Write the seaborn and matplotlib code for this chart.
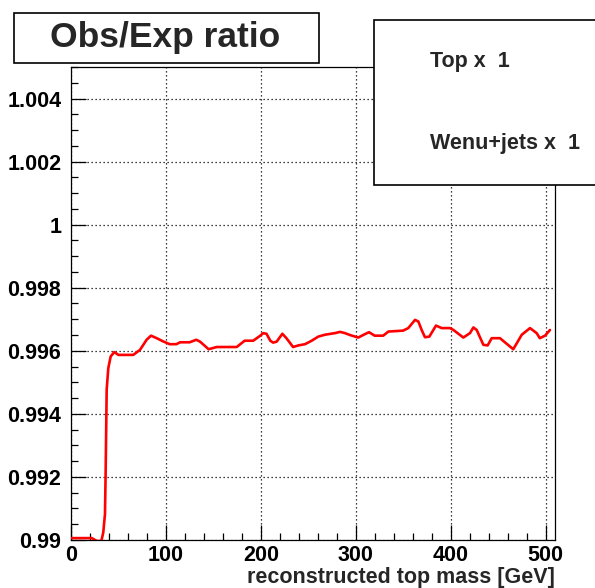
import numpy as np
import pandas as pd
import matplotlib
matplotlib.use("Agg")
import matplotlib.pyplot as plt
from matplotlib.patches import Rectangle
from matplotlib.ticker import MultipleLocator, FixedLocator, FixedFormatter
import seaborn as sns

# ---- data ----
mass = [1, 22, 27, 32, 34, 35.8, 36.5, 37.6, 39.3, 41.8, 45.6, 50, 65.6, 72.7,
        79.7, 84.3, 90.3, 97, 104, 111, 115, 125, 132, 136, 145, 153.5, 174.6,
        183, 192, 199, 202.6, 206, 210, 213, 216.7, 222.7, 227, 234, 239.5,
        246.6, 253.6, 260.6, 267.6, 278, 283.5, 288.7, 294, 302.7, 309.8, 314,
        320, 329, 334.4, 350, 355.4, 362.5, 366, 369.5, 373, 377.6, 384.6,
        390.6, 399.4, 403, 413.4, 420.4, 424, 427.5, 434.5, 439, 443.3, 452,
        466, 475, 483.7, 490.7, 494, 499.5, 504.7]
ratio = [0.99006, 0.99006, 0.98997, 0.98997, 0.99024, 0.99082, 0.99214, 0.99477,
         0.99545, 0.99582, 0.99596, 0.99587, 0.99587, 0.99603, 0.99635, 0.99648,
         0.99640, 0.99630, 0.99621, 0.99621, 0.99627, 0.99627, 0.99635, 0.99629,
         0.99605, 0.99612, 0.99612, 0.99632, 0.99632, 0.99647, 0.99656, 0.99654,
         0.99632, 0.99626, 0.99629, 0.99654, 0.99640, 0.99612, 0.99617, 0.99621,
         0.99632, 0.99645, 0.99651, 0.99656, 0.99660, 0.99656, 0.99650, 0.99642,
         0.99653, 0.99659, 0.99648, 0.99648, 0.99661, 0.99664, 0.99672, 0.99698,
         0.99693, 0.99666, 0.99643, 0.99645, 0.99680, 0.99672, 0.99672, 0.99666,
         0.99642, 0.99656, 0.99674, 0.99666, 0.99619, 0.99617, 0.99640, 0.99640,
         0.99605, 0.99651, 0.99672, 0.99656, 0.99640, 0.99648, 0.99666]

y_ticks = [0.99, 0.992, 0.994, 0.996, 0.998, 1.0, 1.002, 1.004]
y_tick_labels = ["0.99", "0.992", "0.994", "0.996", "0.998", "1", "1.002", "1.004"]
x_ticks = [0, 100, 200, 300, 400, 500]
x_tick_labels = ["0", "100", "200", "300", "400", "500"]
title_text = "Obs/Exp ratio"
legend_entries = ["Top x  1", "Wenu+jets x  1"]
x_label = "reconstructed top mass [GeV]"

df = pd.DataFrame({"mass": mass, "ratio": ratio})

sns.set_theme(style="white")
plt.rcParams["font.family"] = ["Liberation Sans", "DejaVu Sans"]
plt.rcParams["font.weight"] = "bold"

W, H = 595, 588
fig = plt.figure(figsize=(W / 100, H / 100), dpi=100)
fig.patch.set_facecolor("white")

L, R, T, B = 71, 555, 67, 540
ax = fig.add_axes([L / W, (H - B) / H, (R - L) / W, (B - T) / H])
ax.set_facecolor("white")

sns.lineplot(data=df, x="mass", y="ratio", ax=ax, color="#ff0000",
             linewidth=1.9, sort=False, estimator=None, zorder=3)

ax.set_xlim(0, 510)
ax.set_ylim(0.99, 1.005)

ax.yaxis.set_major_locator(FixedLocator(y_ticks))
ax.yaxis.set_major_formatter(FixedFormatter(y_tick_labels))
ax.yaxis.set_minor_locator(MultipleLocator(0.0005))
ax.xaxis.set_major_locator(FixedLocator(x_ticks))
ax.xaxis.set_major_formatter(FixedFormatter(x_tick_labels))
ax.xaxis.set_minor_locator(MultipleLocator(20))

ax.tick_params(which="both", direction="in", left=True, bottom=True,
               right=False, top=False, colors="black")
ax.tick_params(which="major", length=10.5, width=0.9, labelsize=15.5)
ax.tick_params(axis="y", which="major", pad=7)
ax.tick_params(axis="x", which="major", pad=3.5)
ax.tick_params(which="minor", length=5.3, width=0.9)
for lab in ax.get_xticklabels() + ax.get_yticklabels():
    lab.set_fontweight("bold")

ax.grid(True, which="major", color="black", linestyle=(0, (1, 2.2)), linewidth=0.9)
for s in ax.spines.values():
    s.set_color("black")
    s.set_linewidth(0.9)
    s.set_visible(True)

ax.set_xlabel(x_label, fontsize=15.5, fontweight="bold")
ax.xaxis.set_label_coords(1.0, -(577 - B) / (B - T))
ax.xaxis.label.set_ha("right")
ax.xaxis.label.set_va("center")
ax.set_ylabel("")

# title box
fig.add_artist(Rectangle((14 / W, 1 - 63 / H), (319 - 14) / W, (63 - 13) / H,
                         transform=fig.transFigure, facecolor="white",
                         edgecolor="black", linewidth=1.2, zorder=5))
fig.text(165 / W, 1 - 38 / H, title_text, ha="center", va="center",
         fontsize=25.5, fontweight="bold", zorder=6)

# legend box (drawn over the axes, extends past the right edge)
fig.add_artist(Rectangle((374 / W, 1 - 185 / H), (605 - 374) / W, (185 - 20) / H,
                         transform=fig.transFigure, facecolor="white",
                         edgecolor="black", linewidth=1.2, zorder=5))
fig.text(430 / W, 1 - 62 / H, legend_entries[0], ha="left", va="center",
         fontsize=15.5, fontweight="bold", zorder=6)
fig.text(430 / W, 1 - 143 / H, legend_entries[1], ha="left", va="center",
         fontsize=15.5, fontweight="bold", zorder=6)

fig.savefig("out.png", dpi=100, facecolor="white")
